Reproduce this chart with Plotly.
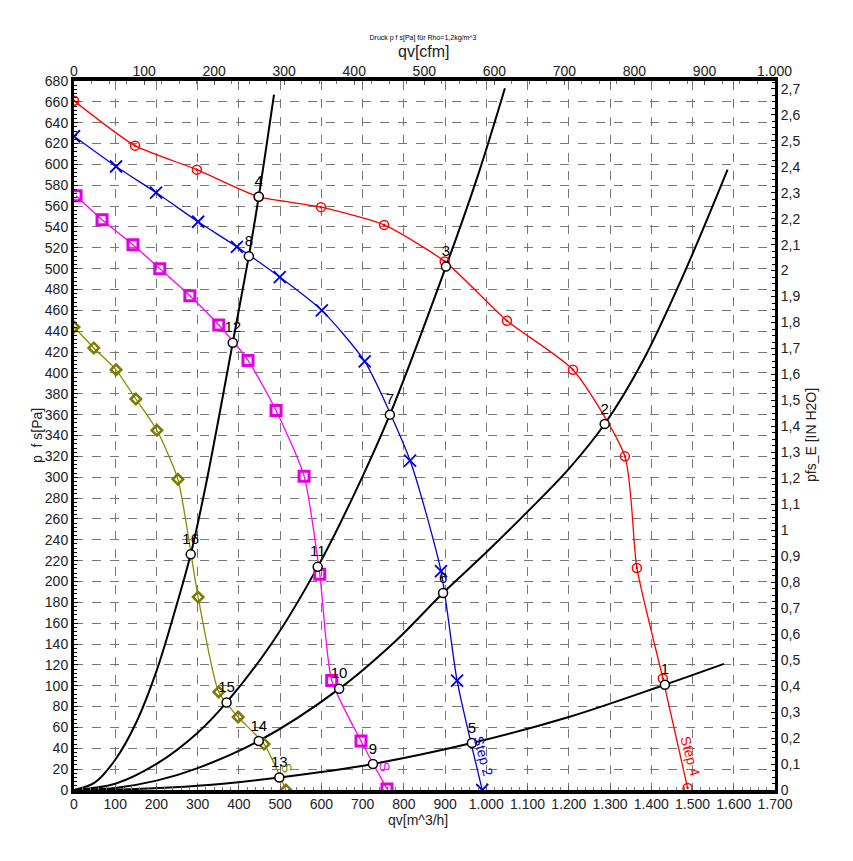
import plotly.graph_objects as go

# ---- data ----
# fan curves: qv [m^3/h], p_fs [Pa]
step4_q = [0, 148, 298, 448, 599, 752, 899, 1050, 1210, 1336, 1365, 1428, 1488]
step4_p = [661, 618, 595, 569, 559, 542, 507, 450, 403, 320, 213, 107, 2]
step2_q = [0, 102, 199, 301, 395, 499, 601, 705, 815, 890, 929, 990]
step2_p = [627, 598, 573, 545, 521, 492, 460, 411, 316, 210, 105, 0]
step3_q = [5, 68, 143, 208, 281, 351, 422, 490, 558, 596, 625, 696, 759]
step3_p = [570, 547, 523, 500, 474, 446, 412, 364, 301, 207, 105, 47, 1]
step1_q = [0, 48, 102, 150, 201, 252, 301, 351, 398, 461, 514]
step1_p = [444, 424, 403, 375, 345, 298, 185, 94, 70, 44, 0]

# system curves
sysA_q = [0, 50, 100, 150, 200, 250, 283, 320, 385, 424, 448, 485]
sysA_p = [0, 7, 29, 64, 114, 179, 226, 293, 429, 512, 569, 667]
sysB_q = [0, 100, 200, 300, 370, 480, 591, 680, 766, 902, 980, 1045]
sysB_p = [0, 6, 25, 55, 84, 141, 214, 284, 360, 502, 590, 673]
sysC_q = [0, 100, 200, 300, 448, 643, 780, 895, 1000, 1100, 1200, 1287, 1380, 1480, 1585]
sysC_p = [0, 2, 9, 21, 47, 97, 143, 189, 228, 267, 308, 351, 412, 496, 595]
sysD_q = [0, 150, 300, 498, 725, 965, 1200, 1433, 1576]
sysD_p = [0, 1, 4, 12, 25, 45, 70, 101, 121]

# operating points
op_labels = ["1", "2", "3", "4", "5", "6", "7", "8", "9", "10", "11", "12", "13", "14", "15", "16"]
op_q = [1433, 1287, 902, 448, 965, 895, 766, 424, 725, 643, 591, 385, 498, 448, 370, 283]
op_p = [101, 351, 502, 569, 45, 189, 360, 512, 25, 97, 214, 429, 12, 47, 84, 226]

# axis ticks
x_ticks = [0, 100, 200, 300, 400, 500, 600, 700, 800, 900, 1000, 1100, 1200, 1300, 1400, 1500, 1600, 1700]
x_ticktext = ["0", "100", "200", "300", "400", "500", "600", "700", "800", "900", "1.000",
              "1.100", "1.200", "1.300", "1.400", "1.500", "1.600", "1.700"]
cfm_ticks = [0, 100, 200, 300, 400, 500, 600, 700, 800, 900, 1000]
cfm_ticktext = ["0", "100", "200", "300", "400", "500", "600", "700", "800", "900", "1.000"]
inh2o_ticks = [i / 10 for i in range(28)]
inh2o_ticktext = ["0", "0,1", "0,2", "0,3", "0,4", "0,5", "0,6", "0,7", "0,8", "0,9", "1",
                  "1,1", "1,2", "1,3", "1,4", "1,5", "1,6", "1,7", "1,8", "1,9", "2",
                  "2,1", "2,2", "2,3", "2,4", "2,5", "2,6", "2,7"]

PA_MAX = 680
Q_MAX = 1700
FONT = "Liberation Sans, Arial, sans-serif"

fig = go.Figure()

# system curves
for q, p in [(sysA_q, sysA_p), (sysB_q, sysB_p), (sysC_q, sysC_p), (sysD_q, sysD_p)]:
    fig.add_trace(go.Scatter(x=q, y=p, mode="lines", line=dict(color="black", width=2, shape="spline", smoothing=1),
                             hoverinfo="skip", showlegend=False))

# fan curves
fig.add_trace(go.Scatter(x=step1_q, y=step1_p, mode="lines+markers",
                         line=dict(color="#8C8C00", width=1.3, shape="spline", smoothing=0.6),
                         marker=dict(symbol="diamond-open", size=8, color="#7A7A00", line=dict(width=2.5)),
                         showlegend=False))
fig.add_trace(go.Scatter(x=step3_q, y=step3_p, mode="lines+markers",
                         line=dict(color="#FF00FF", width=1.3, shape="spline", smoothing=0.6),
                         marker=dict(symbol="square-open", size=10, color="#E000E0", line=dict(width=3)),
                         showlegend=False))
fig.add_trace(go.Scatter(x=step2_q, y=step2_p, mode="lines+markers",
                         line=dict(color="#0000DD", width=1.3, shape="spline", smoothing=0.6),
                         marker=dict(symbol="x-thin-open", size=12, color="#0000DD", line=dict(width=1.8)),
                         showlegend=False))
fig.add_trace(go.Scatter(x=step4_q, y=step4_p, mode="lines+markers",
                         line=dict(color="#FF0000", width=1.3, shape="spline", smoothing=0.6),
                         marker=dict(symbol="circle-open-dot", size=9, color="#FF0000", line=dict(width=1.5)),
                         showlegend=False))

# operating points
fig.add_trace(go.Scatter(x=op_q, y=op_p, mode="markers+text", text=op_labels, textposition="top center",
                         textfont=dict(family=FONT, size=15, color="black"),
                         marker=dict(symbol="circle", size=9, color="white", line=dict(color="black", width=1.5)),
                         showlegend=False))

# invisible traces for the secondary axes
fig.add_trace(go.Scatter(x=[0, 1000.6], y=[0, 0], xaxis="x2", yaxis="y", mode="markers",
                         marker=dict(opacity=0), hoverinfo="skip", showlegend=False))
fig.add_trace(go.Scatter(x=[0, 0], y=[0, 2.7], xaxis="x", yaxis="y2", mode="markers",
                         marker=dict(opacity=0), hoverinfo="skip", showlegend=False))

# step labels
fig.add_annotation(x=1496, y=32, text="Step 4", textangle=75, showarrow=False,
                   font=dict(family=FONT, size=14, color="#FF0000"))
fig.add_annotation(x=994, y=32, text="Step 2", textangle=75, showarrow=False,
                   font=dict(family=FONT, size=14, color="#0000DD"))
fig.add_annotation(x=754, y=22, text="S", textangle=75, showarrow=False,
                   font=dict(family=FONT, size=14, color="#FF00FF"))
fig.add_annotation(x=516, y=21, text="S", textangle=75, showarrow=False,
                   font=dict(family=FONT, size=14, color="#8C8C00"))

# axis titles as paper annotations
fig.add_annotation(x=0.491, y=-0.042, xref="paper", yref="paper", text="qv[m^3/h]", showarrow=False,
                   xanchor="center", yanchor="middle", font=dict(family=FONT, size=14, color="#222"))
fig.add_annotation(x=0.499, y=1.0423, xref="paper", yref="paper", text="qv[cfm]", showarrow=False,
                   xanchor="center", yanchor="middle", font=dict(family=FONT, size=16, color="#222"))
fig.add_annotation(x=-0.0528, y=0.5007, xref="paper", yref="paper", text="p  f s[Pa]", showarrow=False,
                   textangle=-90, xanchor="center", yanchor="middle", font=dict(family=FONT, size=14, color="#222"))
fig.add_annotation(x=1.0514, y=0.5007, xref="paper", yref="paper", text="pfs_E [IN H2O]", showarrow=False,
                   textangle=-90, xanchor="center", yanchor="middle", font=dict(family=FONT, size=14, color="#222"))

fig.update_layout(
    width=853, height=861,
    margin=dict(l=66, r=86, t=73, b=79, autoexpand=False),
    paper_bgcolor="white", plot_bgcolor="white",
    font=dict(family=FONT, size=14, color="#222"),
    title=dict(text="Druck p f s[Pa] für Rho=1,2kg/m^3", x=(423 - 8) / 853, xanchor="center", y=1 - 30 / 861,
               yanchor="middle", yref="container", font=dict(family=FONT, size=7, color="black")),
    xaxis=dict(range=[0, Q_MAX], tickvals=x_ticks, ticktext=x_ticktext, automargin=False,
               showgrid=True, gridcolor="#777", griddash="dash", gridwidth=1,
               showline=True, linecolor="black", linewidth=4, mirror=False,
               ticks="inside", ticklen=4, tickcolor="#555", ticklabelstandoff=-2,
               minor=dict(dtick=20, ticks="inside", ticklen=3, tickcolor="#777", showgrid=False),
               zeroline=False, tickfont=dict(size=14)),
    xaxis2=dict(range=[0, 1000.6], overlaying="x", side="top", tickvals=cfm_ticks, ticktext=cfm_ticktext,
                automargin=False, showgrid=False, showline=True, linecolor="black", linewidth=4,
                ticks="inside", ticklen=4, tickcolor="#555", ticklabelstandoff=-5,
                minor=dict(dtick=25, ticks="inside", ticklen=3, tickcolor="#777"),
                zeroline=False, tickfont=dict(size=14)),
    yaxis=dict(range=[0, PA_MAX], dtick=20, automargin=False,
               showgrid=True, gridcolor="#777", griddash="dash", gridwidth=1,
               showline=True, linecolor="black", linewidth=3,
               ticks="inside", ticklen=4, tickcolor="black",
               minor=dict(dtick=4, ticks="inside", ticklen=3, tickcolor="black"),
               zeroline=False, tickfont=dict(size=14)),
    yaxis2=dict(range=[0, PA_MAX / 249.089], overlaying="y", side="right", automargin=False,
                tickvals=inh2o_ticks, ticktext=inh2o_ticktext, showgrid=False,
                showline=True, linecolor="black", linewidth=3,
                ticks="inside", ticklen=4, tickcolor="black",
                minor=dict(dtick=0.025, ticks="inside", ticklen=3, tickcolor="black"),
                zeroline=False, tickfont=dict(size=14)),
)

fig.write_html("out.html")
